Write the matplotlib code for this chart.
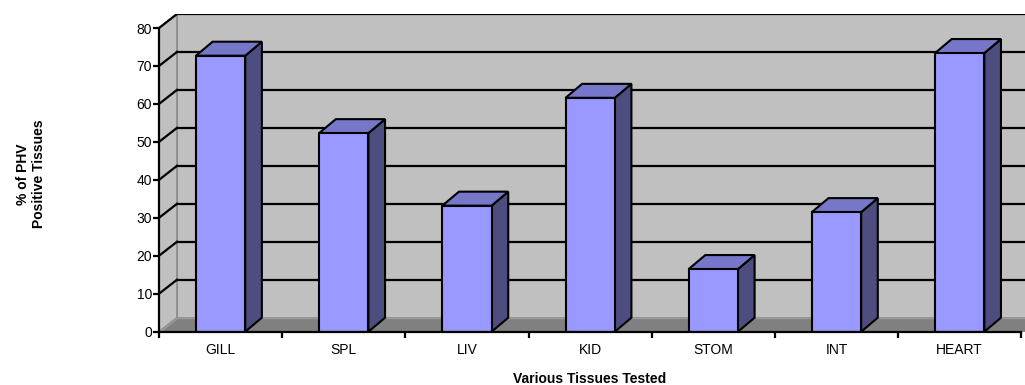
import matplotlib.pyplot as plt
from matplotlib.patches import Polygon

plt.rcParams["font.family"] = ["Liberation Sans", "DejaVu Sans"]

tissues = ["GILL", "SPL", "LIV", "KID", "STOM", "INT", "HEART"]
pct_positive = [72.7, 52.3, 33.2, 61.6, 16.5, 31.5, 73.4]
y_ticks = [0, 10, 20, 30, 40, 50, 60, 70, 80]

# pseudo-3D depth offset, in data units
DX, DY = 0.146, 3.69
BAR_DX = 0.135
BAR_W = 0.40
XMAX = 7.03
YTOP = 80

W, H = 1025, 385
fig = plt.figure(figsize=(W / 100, H / 100), dpi=100)
ax = fig.add_axes([159 / W, (H - 331.7) / H, (W - 159) / W, (331.7 - 14) / H])
ax.set_xlim(0, XMAX)
ax.set_ylim(0, YTOP + DY)
ax.patch.set_visible(False)

wall = "#c0c0c0"
edge = "#8c8c8c"

# back wall, side wall, floor
ax.add_patch(Polygon([(DX, DY), (XMAX + 1, DY), (XMAX + 1, YTOP + DY), (DX, YTOP + DY)],
                     closed=True, fc=wall, ec=edge, lw=1.2, zorder=0))
ax.add_patch(Polygon([(0, 0), (DX, DY), (DX, YTOP + DY), (0, YTOP)],
                     closed=True, fc=wall, ec=edge, lw=1.2, zorder=0))
ax.add_patch(Polygon([(0, 0), (XMAX + 1, 0), (XMAX + 1, DY), (DX, DY)],
                     closed=True, fc="#808080", ec="#9a9a9a", lw=1.0, zorder=0.5))

# gridlines on back wall and side wall
for v in y_ticks[1:]:
    ax.plot([DX, XMAX + 1], [v + DY, v + DY], color="black", lw=1.6, zorder=1)
    ax.plot([0, DX], [v, v + DY], color="black", lw=1.6, zorder=1)

# bars: front face, top face, right side
for i, val in enumerate(pct_positive):
    x0 = i + 0.5 - BAR_W / 2
    x1 = x0 + BAR_W
    front = [(x0, 0), (x1, 0), (x1, val), (x0, val)]
    top = [(x0, val), (x1, val), (x1 + BAR_DX, val + DY), (x0 + BAR_DX, val + DY)]
    side = [(x1, 0), (x1 + BAR_DX, DY), (x1 + BAR_DX, val + DY), (x1, val)]
    for pts, col in ((side, "#4d4d80"), (top, "#7777c9"), (front, "#9999ff")):
        ax.add_patch(Polygon(pts, closed=True, fc=col, ec="black", lw=1.5,
                             joinstyle="miter", zorder=2))

for s in ("top", "right"):
    ax.spines[s].set_visible(False)
ax.spines["left"].set_bounds(0, YTOP)
ax.spines["bottom"].set_bounds(0, 7)
for s in ("left", "bottom"):
    ax.spines[s].set_linewidth(1.6)
    ax.spines[s].set_zorder(3)

ax.set_yticks(y_ticks)
ax.tick_params(axis="y", direction="out", length=4, width=1.6, pad=1, labelsize=10)
ax.set_xticks(range(8))
ax.set_xticklabels([])
ax.tick_params(axis="x", which="major", direction="out", length=4, width=1.6)
ax.set_xticks([i + 0.5 for i in range(len(tissues))], minor=True)
ax.set_xticklabels(tissues, minor=True)
ax.tick_params(axis="x", which="minor", length=0, pad=8, labelsize=10)

fig.text(31 / W, 1 - 174 / H, "% of PHV\nPositive Tissues", rotation=90, ha="center",
         va="center", multialignment="center", fontsize=10, fontweight="bold")
fig.text(590 / W, 1 - 379 / H, "Various Tissues Tested", ha="center", va="center",
         fontsize=10, fontweight="bold")

fig.savefig("out.png", dpi=100, facecolor="white")
